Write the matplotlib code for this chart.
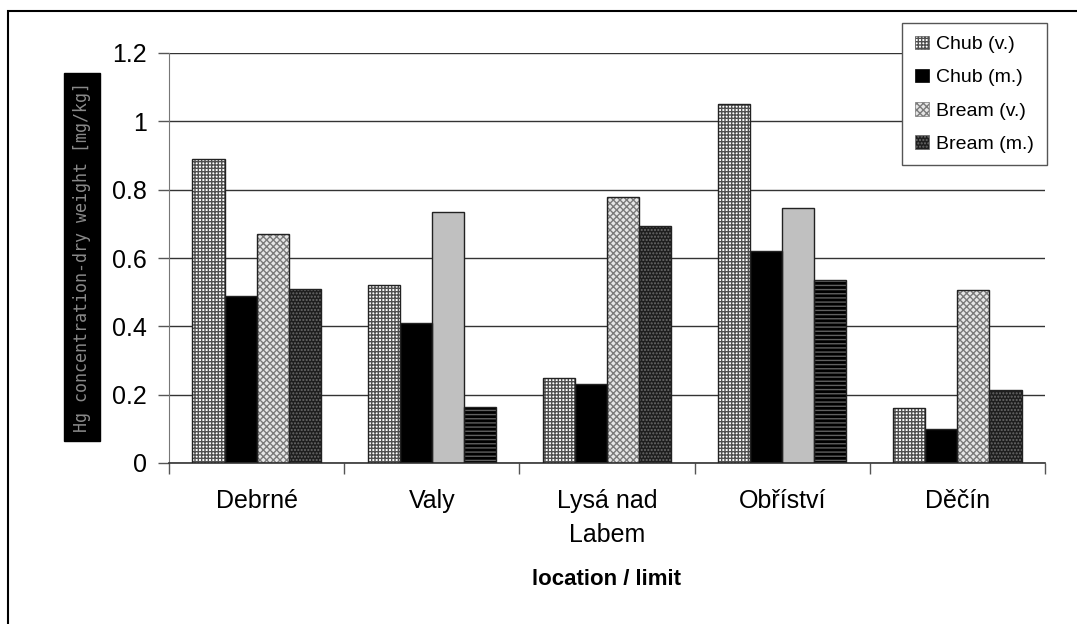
import numpy as np
import matplotlib
matplotlib.use('Agg')
import matplotlib.pyplot as plt
from matplotlib.patches import Patch, Rectangle

plt.rcParams['font.family'] = ['Liberation Sans', 'DejaVu Sans']
plt.rcParams['hatch.linewidth'] = 1.0

locations = ['Debrné', 'Valy', 'Lysá nad\nLabem', 'Obříství', 'Děčín']
series = ['Chub (v.)', 'Chub (m.)', 'Bream (v.)', 'Bream (m.)']
chub_v = [0.89, 0.52, 0.25, 1.05, 0.16]
chub_m = [0.49, 0.41, 0.23, 0.62, 0.10]
bream_v = [0.67, 0.735, 0.78, 0.745, 0.505]
bream_m = [0.51, 0.165, 0.695, 0.535, 0.215]
yticks = [0, 0.2, 0.4, 0.6, 0.8, 1, 1.2]
ytick_labels = ['0', '0.2', '0.4', '0.6', '0.8', '1', '1.2']

# fill styles: (face, hatch, hatch colour)
styles = [
    ('white', '+++++', '#505050'),
    ('black', None, 'black'),
    ('#e6e6e6', 'xxxxx', '#7a7a7a'),
    ('#1e1e1e', '.....', '#6a6a6a'),
]
# the two odd bars (Valy, Obříství) drawn plain in the original
bream_v_plain = [False, True, False, True, False]
bream_m_plain = [False, True, False, True, False]

fig = plt.figure(figsize=(10.77, 6.24), dpi=100)
ax = fig.add_axes([169 / 1077, 1 - 463 / 624, (1045 - 169) / 1077, (463 - 53) / 624])

x = np.arange(len(locations))
w = 0.183
data = [chub_v, chub_m, bream_v, bream_m]
for k, vals in enumerate(data):
    pos = x + (k - 1.5) * w
    face, hatch, hcol = styles[k]
    faces = [face] * len(vals)
    hatches = [hatch] * len(vals)
    hcols = [hcol] * len(vals)
    for i in range(len(vals)):
        if k == 2 and bream_v_plain[i]:
            faces[i], hatches[i], hcols[i] = '#c0c0c0', None, '#c0c0c0'
        if k == 3 and bream_m_plain[i]:
            faces[i], hatches[i], hcols[i] = 'black', '----', '#606060'
    for i in range(len(vals)):
        ax.bar(pos[i], vals[i], w, color=faces[i], hatch=hatches[i],
               edgecolor=hcols[i], linewidth=0, zorder=2)
    ax.bar(pos, vals, w, fill=False, edgecolor='#222222', linewidth=1.0, zorder=3)

ax.set_xlim(-0.5, len(locations) - 0.5)
ax.set_ylim(0, 1.2)
ax.set_yticks(yticks)
ax.set_yticklabels(ytick_labels, fontsize=18)
ax.yaxis.grid(True, color='#333333', linewidth=1.0, zorder=0)
ax.set_axisbelow(True)
ax.tick_params(axis='y', length=8, width=1, color='#555555', pad=8)

ax.set_xticks(x)
ax.set_xticklabels(locations, fontsize=18, linespacing=1.5)
ax.set_xticks(np.arange(-0.5, len(locations)), minor=True)
ax.tick_params(axis='x', which='major', length=0, pad=19)
ax.tick_params(axis='x', which='minor', length=8, width=1, color='#555555')
ax.set_xlabel('location / limit', fontsize=16, fontweight='bold', labelpad=16)

for s in ['top', 'right']:
    ax.spines[s].set_visible(False)
ax.spines['left'].set_color('#777777')
ax.spines['bottom'].set_color('#333333')
ax.spines['bottom'].set_linewidth(1.2)

fig.text(82 / 1077, 1 - 257 / 624, 'Hg concentration-dry weight [mg/kg]',
         rotation=90, ha='center', va='center', fontsize=12,
         family='DejaVu Sans Mono', color='#8a8a8a',
         bbox=dict(facecolor='black', edgecolor='black', boxstyle='square,pad=0.55'))

handles = []
for k in range(4):
    face, hatch, hcol = styles[k]
    handles.append(Patch(facecolor=face, hatch=hatch, edgecolor=hcol if hatch else 'black',
                         linewidth=0.5))
leg = fig.legend(handles, series, loc='upper right',
                 bbox_to_anchor=(1047 / 1077, 1 - 23 / 624), borderaxespad=0,
                 fontsize=14, frameon=True, fancybox=False, framealpha=1,
                 edgecolor='#555555', handlelength=0.7, handleheight=0.7,
                 handletextpad=0.4, labelspacing=0.8, borderpad=0.65)
leg.get_frame().set_linewidth(1.0)

fig.patches.append(Rectangle((8 / 1077, -0.1), 1.2, 1 - 11 / 624 + 0.1,
                             transform=fig.transFigure, fill=False,
                             edgecolor='black', linewidth=1.5))

fig.savefig('out.png', dpi=100)
